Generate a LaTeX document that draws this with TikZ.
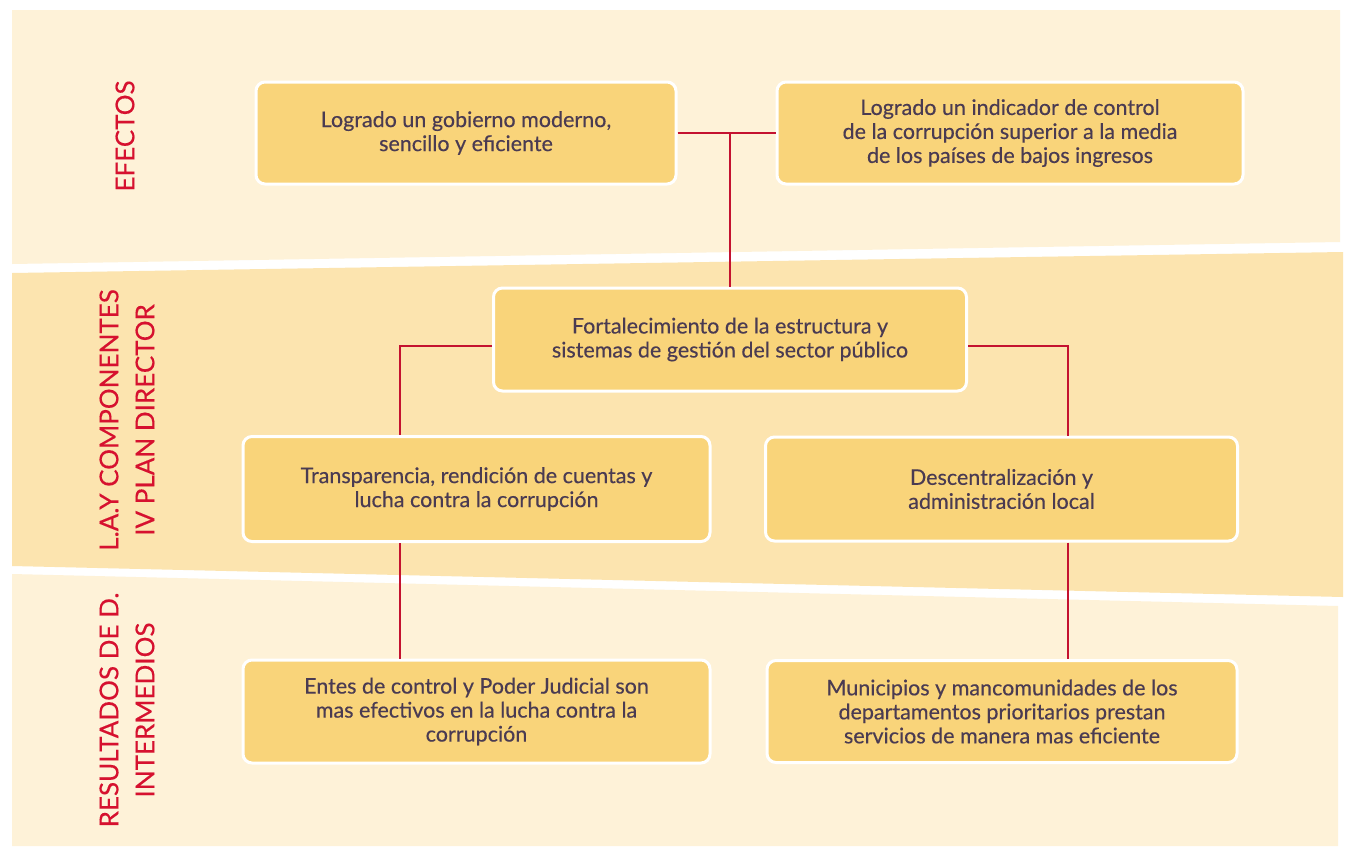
\documentclass[tikz,border=0pt]{standalone}
\usepackage{fontspec}
\setmainfont{Lato}
\newfontfamily\boxfont{Lato}[FakeBold=0.35]
\newfontfamily\labfont{Lato}[FakeBold=0.3]
\definecolor{bandlight}{HTML}{FEF2D8}
\definecolor{banddark}{HTML}{FCE4AF}
\definecolor{boxfill}{HTML}{F9D47A}
\definecolor{linered}{HTML}{C41230}
\definecolor{labelred}{HTML}{D6112F}
\definecolor{textdark}{HTML}{4A3B52}
\tikzset{
  box/.style={draw=white, line width=3pt, fill=boxfill, rounded corners=9pt,
    align=center, text=textdark, inner sep=0pt,
    font=\boxfont\fontsize{21.5}{24}\selectfont},
  conn/.style={draw=linered, line width=2pt},
  bandlabel/.style={rotate=90, align=center, text=labelred,
    font=\labfont\fontsize{26}{36}\selectfont}
}
\begin{document}
\begin{tikzpicture}[x=1pt,y=-1pt]
\useasboundingbox (0,0) rectangle (1346,846);
\fill[white] (0,0) rectangle (1346,846);
% bands
\fill[bandlight] (12,10) -- (1340,10) -- (1340,242) -- (12,264) -- cycle;
\fill[banddark] (12,273) -- (1343,252) -- (1343,597) -- (12,566) -- cycle;
\fill[bandlight] (12,574) -- (1338,606) -- (1338,846) -- (12,846) -- cycle;
% labels
\node[bandlabel] (lab1) at (125,136) {EFECTOS};
\node[bandlabel] (lab2) at (127,420) {L.A.Y COMPONENTES\\IV PLAN DIRECTOR};
\node[bandlabel] (lab3) at (127,710) {RESULTADOS DE D.\\INTERMEDIOS};
% coordinates for connectors
\coordinate (cL) at (400,346);
\coordinate (cR) at (1068,346);
% boxes
\node[box, minimum width=420pt, minimum height=102pt] (E1) at (466,133)
  {Logrado un gobierno moderno,\\sencillo y eficiente};
\node[box, minimum width=466pt, minimum height=102pt] (E2) at (1010,133)
  {Logrado un indicador de control\\de la corrupción superior a la media\\de los países de bajos ingresos};
\node[box, minimum width=473pt, minimum height=103pt] (F) at (730,339.5)
  {Fortalecimiento de la estructura y\\sistemas de gestión del sector público};
\node[box, minimum width=467pt, minimum height=105pt] (T) at (476.5,489)
  {Transparencia, rendición de cuentas y\\lucha contra la corrupción};
\node[box, minimum width=472pt, minimum height=104pt] (D) at (1001.5,489)
  {Descentralización y\\administración local};
\node[box, minimum width=467pt, minimum height=103pt] (R1) at (476.5,711.5)
  {Entes de control y Poder Judicial son\\mas efectivos en la lucha contra la\\corrupción};
\node[box, minimum width=470pt, minimum height=102pt] (R2) at (1002,711.5)
  {Municipios y mancomunidades de los\\departamentos prioritarios prestan\\servicios de manera mas eficiente};
% connectors
\draw[conn] (E1.east) -- (E2.west);
\draw[conn] (F.north) -- (F.north |- E1.east);
\draw[conn] (F.west |- cL) -- (cL) -- (cL |- T.north);
\draw[conn] (F.east |- cR) -- (cR) -- (cR |- D.north);
\draw[conn] (cL |- T.south) -- (cL |- R1.north);
\draw[conn] (cR |- D.south) -- (cR |- R2.north);
\end{tikzpicture}
\end{document}
